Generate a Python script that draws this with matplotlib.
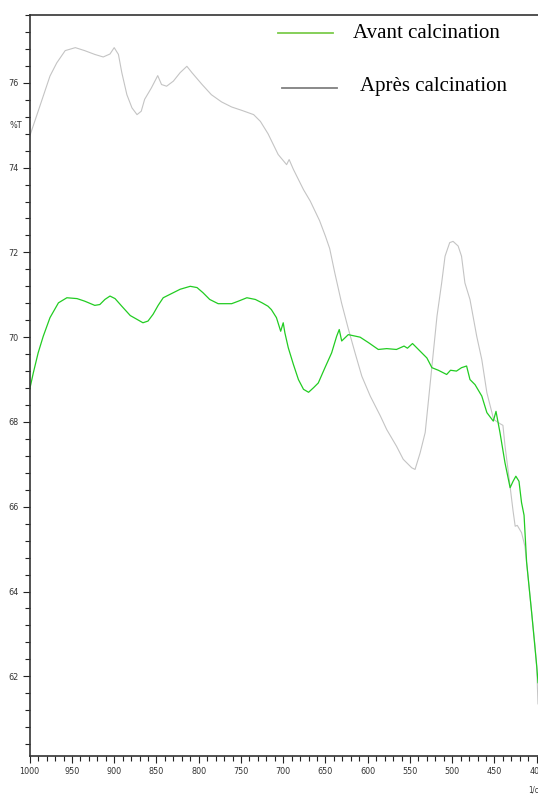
import numpy as np
import matplotlib
matplotlib.use('Agg')
import matplotlib.pyplot as plt
from matplotlib.ticker import MultipleLocator
from matplotlib.lines import Line2D

# wavenumber (1/cm) and %T
wn_apres = [1000, 990, 976, 968, 958, 946, 935, 923, 913, 905, 900, 895, 891, 885, 879, 873,
            868, 864, 856, 848.5, 844, 838, 830, 822, 814, 808, 796, 785, 773, 761, 749, 735,
            727, 718, 706, 696, 693, 688, 676, 668, 657, 650, 645, 639, 631, 623, 615, 607,
            597, 585, 577.5, 566, 558, 548, 544, 538, 532, 528, 524, 518, 512.5, 508.5, 503,
            499, 493, 489, 485, 479, 471, 465, 459, 451, 443.5, 440, 437.5, 433.5, 428, 425.5,
            423, 418, 414, 410, 406, 402, 400, 398.5]
t_apres = [74.74, 75.33, 76.16, 76.47, 76.76, 76.83, 76.76, 76.67, 76.61, 76.68, 76.83, 76.67,
           76.24, 75.72, 75.41, 75.25, 75.33, 75.61, 75.88, 76.17, 75.96, 75.92, 76.04, 76.24,
           76.39, 76.24, 75.96, 75.72, 75.55, 75.43, 75.35, 75.25, 75.09, 74.80, 74.31, 74.07,
           74.19, 73.96, 73.48, 73.21, 72.75, 72.38, 72.09, 71.52, 70.81, 70.20, 69.63, 69.08,
           68.61, 68.14, 67.82, 67.43, 67.12, 66.92, 66.88, 67.27, 67.75, 68.53, 69.32, 70.50,
           71.28, 71.91, 72.23, 72.26, 72.15, 71.91, 71.28, 70.89, 70.02, 69.47, 68.69, 68.06,
           67.96, 67.92, 67.43, 66.80, 65.90, 65.54, 65.56, 65.39, 65.07, 64.29, 63.50, 62.71,
           62.20, 61.35]

wn_avant = [1000, 995.7, 990, 984, 976, 966, 956, 944, 935, 923, 917, 911, 905, 899, 891, 881,
            873, 866, 860, 854, 848, 842, 834, 822, 810, 802, 795, 787, 777, 761, 753, 743,
            733, 725, 718, 714, 708, 703, 700, 698, 694, 688, 682, 676, 670, 664, 658.5, 650.6,
            642.7, 636.8, 633.7, 630.8, 623, 609, 599, 587.5, 577.5, 566, 557, 553, 547, 542,
            534, 530, 524, 516.5, 506.6, 502, 495, 489, 483, 479, 473, 465, 459, 451.4, 448.2,
            443.5, 437.6, 431.5, 428, 424.7, 421, 418, 415, 412, 406, 400, 398.5]
t_avant = [68.77, 69.16, 69.63, 70.02, 70.46, 70.81, 70.93, 70.91, 70.85, 70.75, 70.77, 70.89,
           70.97, 70.91, 70.73, 70.51, 70.42, 70.34, 70.38, 70.54, 70.75, 70.93, 71.01, 71.13,
           71.20, 71.17, 71.05, 70.89, 70.79, 70.79, 70.85, 70.93, 70.89, 70.81, 70.73, 70.65,
           70.46, 70.14, 70.34, 70.10, 69.75, 69.36, 69.00, 68.77, 68.70, 68.81, 68.92, 69.28,
           69.63, 70.02, 70.18, 69.91, 70.06, 70.00, 69.87, 69.71, 69.73, 69.71, 69.79, 69.74,
           69.85, 69.75, 69.59, 69.51, 69.28, 69.22, 69.12, 69.22, 69.20, 69.28, 69.32, 69.00,
           68.88, 68.61, 68.22, 68.02, 68.25, 67.75, 67.04, 66.45, 66.60, 66.72, 66.60, 66.10,
           65.80, 64.70, 63.50, 62.24, 61.85]

labels = ['Avant calcination', 'Après calcination']

fig = plt.figure(figsize=(5.38, 7.94), dpi=100)
ax = fig.add_axes([29.7 / 538, 1 - 756 / 794, 1 - 29.7 / 538, (756 - 15) / 794])

ax.plot(wn_apres, t_apres, color='#c4c4c4', lw=0.8)
ax.plot(wn_avant, t_avant, color='#22cc22', lw=0.9)

ax.set_xlim(1000, 398.5)
ax.set_ylim(60.12, 77.6)

ax.xaxis.set_major_locator(MultipleLocator(50))
ax.xaxis.set_minor_locator(MultipleLocator(10))
ax.yaxis.set_major_locator(MultipleLocator(2))
ax.yaxis.set_minor_locator(MultipleLocator(0.4))

tick_font = ['Liberation Sans Narrow', 'DejaVu Sans']
ax.tick_params(which='major', length=5, width=0.8, color='#222222', pad=3)
ax.tick_params(which='minor', length=3.5, width=0.8, color='#222222')
for lab in ax.get_xticklabels() + ax.get_yticklabels():
    lab.set_family(tick_font)
    lab.set_stretch('condensed')
    lab.set_fontsize(6.5)
    lab.set_color('#333333')

for s in ['left', 'bottom', 'top']:
    ax.spines[s].set_linewidth(1.2)
    ax.spines[s].set_color('#333333')
ax.spines['right'].set_visible(False)

# axis captions as in the instrument printout
fig.text(10 / 538, 1 - 126 / 794, '%T', fontsize=6.5, family=tick_font, stretch='condensed',
         color='#333333', va='center')
fig.text(528 / 538, 1 - 790 / 794, '1/cm', fontsize=5.5, family=tick_font, stretch='condensed',
         color='#333333', va='center')

# hand-drawn legend
fig.add_artist(Line2D([278 / 538, 333 / 538], [1 - 33 / 794] * 2, color='#7ccc4c', lw=1.3))
fig.add_artist(Line2D([282 / 538, 337 / 538], [1 - 88 / 794] * 2, color='#808080', lw=1.3))
fig.text(353 / 538, 1 - 34 / 794, labels[0], fontsize=15, family='Liberation Serif', va='center')
fig.text(360 / 538, 1 - 87 / 794, labels[1], fontsize=15, family='Liberation Serif', va='center')

plt.savefig('out.png', dpi=100)
